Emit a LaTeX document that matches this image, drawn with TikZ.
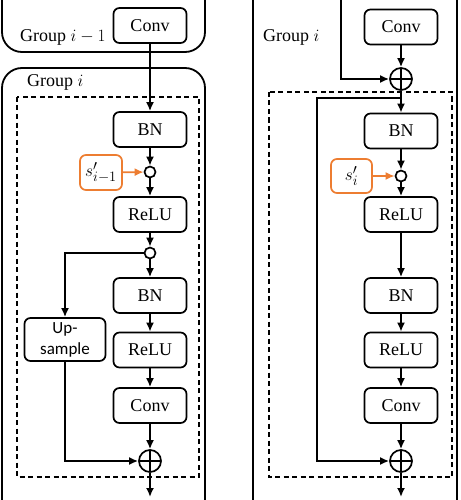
\documentclass[tikz,border=0pt]{standalone}
\usepackage{fontspec}
\setmainfont{Liberation Serif}
\newfontfamily\serfont{Liberation Serif}
\newfontfamily\upfont{Carlito}
\usetikzlibrary{arrows.meta}
\definecolor{orng}{RGB}{237,125,49}
\tikzset{
  box/.style={draw, line width=1.7pt, rounded corners=6pt, minimum width=73pt, minimum height=35pt, inner sep=0pt, font=\serfont\fontsize{18}{20}\selectfont},
  sbox/.style={draw=orng, line width=1.7pt, rounded corners=6pt, minimum width=42pt, minimum height=35pt, inner sep=0pt, font=\fontsize{19}{20}\selectfont},
  dot/.style={draw, line width=1.7pt, circle, minimum size=11pt, inner sep=0pt},
  plus/.style={draw, line width=1.7pt, circle, minimum size=22pt, inner sep=0pt,
    path picture={\draw[line width=1.7pt] (path picture bounding box.north) -- (path picture bounding box.south) (path picture bounding box.west) -- (path picture bounding box.east);}},
  arr/.style={line width=1.8pt, -{Latex[length=9pt,width=8pt]}},
  ln/.style={line width=1.8pt},
  grp/.style={line width=1.8pt, rounded corners=20pt},
  dsh/.style={line width=1.6pt, dash pattern=on 5pt off 3.5pt},
  lbl/.style={font=\serfont\fontsize{18}{20}\selectfont, inner sep=0pt, anchor=base west}
}
\begin{document}
\begin{tikzpicture}[x=1pt, y=-1pt]
\useasboundingbox (0,0) rectangle (460,500);
% ---------- left panel ----------
\draw[grp] (2,0) -- (2,52) -- (205,52) -- (205,0);
\draw[grp] (2,500) -- (2,68) -- (205,68) -- (205,500);
\draw[dsh] (17,97) rectangle (199,477);
\node[lbl] (g1) at (20,42) {Group $i-1$};
\node[lbl] (g2) at (27,87) {Group $i$};
\node[box] (conv1) at (150,25.5) {Conv};
\node[box] (bn1) at (150,129.5) {BN};
\node[dot] (c1) at (150,172) {};
\node[sbox] (s1) at (101,172.5) {$s'_{i-1}$};
\node[box] (relu1) at (150,214.5) {ReLU};
\node[dot] (c2) at (150,253) {};
\node[box] (bn2) at (150,295.5) {BN};
\node[box] (relu2) at (150,350) {ReLU};
\node[box] (conv2) at (150,405.5) {Conv};
\node[box, minimum width=81pt, minimum height=43pt, align=center, font=\upfont\fontsize{17}{21}\selectfont] (up) at (65,339.5) {Up-\\sample};
\node[plus] (p1) at (150,461) {};
\coordinate (o1) at (150,497);
\draw[arr] (conv1) -- (bn1);
\draw[arr] (bn1) -- (c1);
\draw[arr, draw=orng, fill=orng] (s1) -- (c1);
\draw[arr] (c1) -- (relu1);
\draw[arr] (relu1) -- (c2);
\draw[arr] (c2) -- (bn2);
\draw[arr] (bn2) -- (relu2);
\draw[arr] (relu2) -- (conv2);
\draw[arr] (conv2) -- (p1);
\draw[arr] (p1) -- (o1);
\draw[arr] (c2) -| (up);
\draw[arr] (up) |- (p1);
% ---------- right panel ----------
\draw[ln] (253,0) -- (253,500);
\draw[ln] (457,0) -- (457,500);
\draw[dsh] (269,92) rectangle (452,477);
\node[lbl] (g3) at (263,42) {Group $i$};
\node[box] (conv3) at (401,27) {Conv};
\coordinate (in2) at (341,0);
\node[plus] (p2) at (401,79) {};
\coordinate (br) at (401,98);
\coordinate (bl) at (317,98);
\node[box] (bn3) at (401,131) {BN};
\node[dot] (c3) at (401,176) {};
\node[sbox, minimum width=41pt, minimum height=34pt] (s2) at (351.5,176) {$s'_{i}$};
\node[box] (relu3) at (401,214.5) {ReLU};
\node[box] (bn4) at (401,295.5) {BN};
\node[box] (relu4) at (401,350) {ReLU};
\node[box] (conv4) at (401,405.5) {Conv};
\node[plus] (p3) at (401,461) {};
\coordinate (o2) at (401,497);
\draw[arr] (conv3) -- (p2);
\draw[arr] (in2) |- (p2);
\draw[arr] (p2) -- (bn3);
\draw[arr] (br) -- (bl) |- (p3);
\draw[arr] (bn3) -- (c3);
\draw[arr, draw=orng, fill=orng] (s2) -- (c3);
\draw[arr] (c3) -- (relu3);
\draw[arr] (relu3) -- (bn4);
\draw[arr] (bn4) -- (relu4);
\draw[arr] (relu4) -- (conv4);
\draw[arr] (conv4) -- (p3);
\draw[arr] (p3) -- (o2);
\end{tikzpicture}
\end{document}
